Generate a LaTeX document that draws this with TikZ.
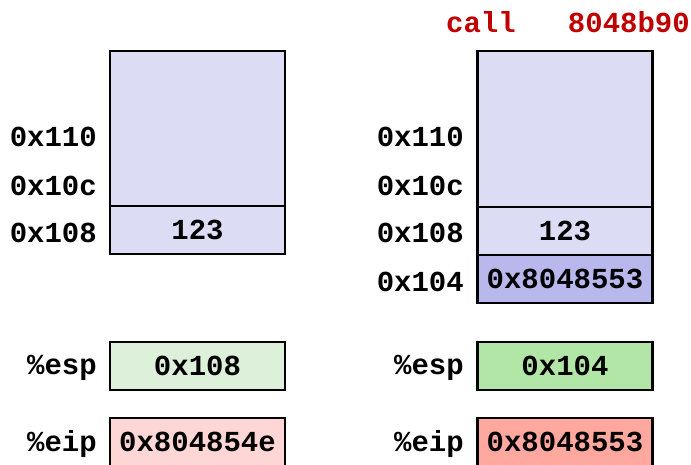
\documentclass[tikz,border=0pt]{standalone}
\usepackage{fontspec}
\setmonofont{Liberation Mono}
\definecolor{stackfill}{HTML}{DCDCF4}
\definecolor{pushfill}{HTML}{B8B8EC}
\definecolor{espold}{HTML}{DCF0DA}
\definecolor{espnew}{HTML}{B2E6A6}
\definecolor{eipold}{HTML}{FFD6D6}
\definecolor{eipnew}{HTML}{FFA8A0}
\definecolor{instr}{HTML}{C00000}
\tikzset{
  txt/.style={font=\ttfamily\bfseries\fontsize{29}{31}\selectfont, inner sep=0pt},
  cell/.style={txt, draw=black, line width=2.8pt, minimum width=175pt, outer sep=0pt},
  addr/.style={txt, anchor=east},
}
\begin{document}
\begin{tikzpicture}[x=1pt,y=-1pt]
\useasboundingbox (0,0) rectangle (691,465);

% instruction being executed
\node[txt, text=instr, anchor=east] (ins) at (690,22) {call\ \ \ 8048b90};

% stack before the call
\node[cell, fill=stackfill, minimum height=155pt] (la) at (197.5,128.5) {};
\node[cell, fill=stackfill, minimum height=48pt] (lb) at (197.5,230) {123};
\node[addr] (la110) at (97,137) {0x110};
\node[addr] (la10c) at (97,186) {0x10c};
\node[addr] (la108) at (97,233) {0x108};

% stack after the call
\node[cell, fill=stackfill, minimum height=156pt] (ra) at (565,129) {};
\node[cell, fill=stackfill, minimum height=48pt] (rb) at (565,231) {123};
\node[cell, fill=pushfill, minimum height=48pt] (rc) at (565,279) {0x8048553};
\node[addr] (ra110) at (464,137) {0x110};
\node[addr] (ra10c) at (464,186) {0x10c};
\node[addr] (ra108) at (464,233) {0x108};
\node[addr] (ra104) at (464,282) {0x104};

% registers before
\node[cell, fill=espold, minimum height=48pt] (esp1) at (197.5,366) {0x108};
\node[cell, fill=eipold, minimum height=48pt] (eip1) at (197.5,442) {0x804854e};
\node[addr] (lesp1) at (97,368) {\%esp};
\node[addr] (leip1) at (97,444) {\%eip};

% registers after
\node[cell, fill=espnew, minimum height=48pt] (esp2) at (565,366) {0x104};
\node[cell, fill=eipnew, minimum height=48pt] (eip2) at (565,442) {0x8048553};
\node[addr] (lesp2) at (464,368) {\%esp};
\node[addr] (leip2) at (464,444) {\%eip};
\end{tikzpicture}
\end{document}
